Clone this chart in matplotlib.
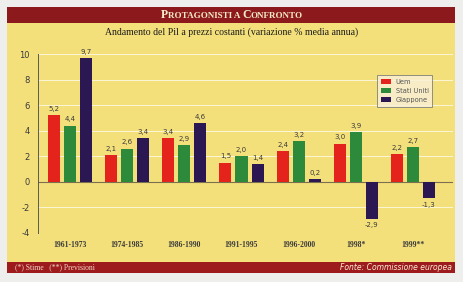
import numpy as np
import matplotlib
matplotlib.use("Agg")
import matplotlib.pyplot as plt
from matplotlib.patches import Rectangle
from matplotlib.offsetbox import TextArea, HPacker, AnnotationBbox

plt.rcParams["axes.unicode_minus"] = False

# data
periods = ["1961-1973", "1974-1985", "1986-1990", "1991-1995", "1996-2000", "1998*", "1999**"]
uem = [5.2, 2.1, 3.4, 1.5, 2.4, 3.0, 2.2]
usa = [4.4, 2.6, 2.9, 2.0, 3.2, 3.9, 2.7]
giappone = [9.7, 3.4, 4.6, 1.4, 0.2, -2.9, -1.3]
series_names = ["Uem", "Stati Uniti", "Giappone"]
colors = ["#e5231d", "#2e8a3b", "#2b1752"]

W, H = 464, 282
fig = plt.figure(figsize=(W / 100, H / 100), dpi=100)
fig.patch.set_facecolor("#eeeeec")

def fx(px):
    return px / W

def fy(py):
    return 1 - py / H

# panel, title bar, footer bar
fig.add_artist(Rectangle((fx(7), fy(273)), fx(455) - fx(7), fy(7) - fy(273),
                         transform=fig.transFigure, facecolor="#f4e07b", edgecolor="none", zorder=0))
fig.add_artist(Rectangle((fx(7), fy(23)), fx(455) - fx(7), fy(7) - fy(23),
                         transform=fig.transFigure, facecolor="#8c1a1c", edgecolor="none", zorder=0))
fig.add_artist(Rectangle((fx(7), fy(273)), fx(455) - fx(7), fy(262) - fy(273),
                         transform=fig.transFigure, facecolor="#9e1b1d", edgecolor="none", zorder=0))

# title in small caps
tc = "#f6ecc8"
big = dict(color=tc, fontfamily="Liberation Serif", fontweight="bold", fontsize=8.5)
small = dict(color=tc, fontfamily="Liberation Serif", fontweight="bold", fontsize=6.5)
parts = [TextArea("P", textprops=big), TextArea("ROTAGONISTI A ", textprops=small),
         TextArea("C", textprops=big), TextArea("ONFRONTO", textprops=small)]
box = HPacker(children=parts, align="baseline", pad=0, sep=0)
fig.add_artist(AnnotationBbox(box, (fx(232), fy(15.5)), xycoords="figure fraction",
                              frameon=False, box_alignment=(0.5, 0.5)))

fig.text(fx(232), fy(32), "Andamento del Pil a prezzi costanti (variazione % media annua)",
         ha="center", va="center", fontsize=7, fontfamily="Liberation Serif", color="#1a1a1a")

fig.text(fx(15), fy(267.5), "(*) Stime   (**) Previsioni", ha="left", va="center",
         fontsize=5.5, fontfamily="Liberation Serif", color="#f0d8c8")
fig.text(fx(452), fy(267.5), "Fonte: Commissione europea", ha="right", va="center",
         fontsize=5.5, fontstyle="italic", color="#f6ecd8")

# chart axes
ax = fig.add_axes([fx(38), fy(233), fx(453) - fx(38), fy(54) - fy(233)])
ax.set_facecolor("none")
ax.set_xlim(-0.56, 6.70)
ax.set_ylim(-4, 10)

x = np.arange(len(periods))
width = 0.21
offsets = [-0.28, 0, 0.28]
for vals, off, col, name in zip([uem, usa, giappone], offsets, colors, series_names):
    ax.bar(x + off, vals, width, color=col, label=name, zorder=3)
    for xi, v in zip(x, vals):
        lab = f"{v:.1f}".replace(".", ",")
        if v >= 0:
            ax.text(xi + off, v + 0.25, lab, ha="center", va="bottom",
                    fontsize=5, color="#3a3a3a", zorder=4)
        else:
            ax.text(xi + off, v - 0.25, lab, ha="center", va="top",
                    fontsize=5, color="#3a3a3a", zorder=4)

for g in [-4, -2, 2, 4, 6, 8, 10]:
    ax.axhline(g, color="white", lw=0.7, alpha=0.7, zorder=1)
ax.axhline(0, color="#7a7050", lw=0.8, zorder=2)

for s in ["top", "right", "bottom"]:
    ax.spines[s].set_visible(False)
ax.spines["left"].set_color("#5a5a50")
ax.spines["left"].set_linewidth(0.7)

ax.set_yticks([-4, -2, 0, 2, 4, 6, 8, 10])
ax.tick_params(axis="y", length=0, labelsize=6, colors="#3a3a3a", pad=6)
ax.set_xticks(x)
ax.set_xticklabels(periods, fontfamily="Liberation Serif", fontweight="bold", fontsize=5.5,
                   color="#3a3a3a")
ax.tick_params(axis="x", length=0, pad=6)

leg = ax.legend(loc="upper left", bbox_to_anchor=(fx(374), fy(72)),
                bbox_transform=fig.transFigure, fontsize=4.8, frameon=True,
                handlelength=1.5, handleheight=0.8, borderpad=0.55, labelspacing=0.45,
                handletextpad=0.7, fancybox=False)
leg.get_frame().set_facecolor("#f8f0d8")
leg.get_frame().set_edgecolor("#777777")
leg.get_frame().set_linewidth(0.7)
for t in leg.get_texts():
    t.set_color("#555555")

fig.savefig("out.png", dpi=100, facecolor=fig.get_facecolor())
